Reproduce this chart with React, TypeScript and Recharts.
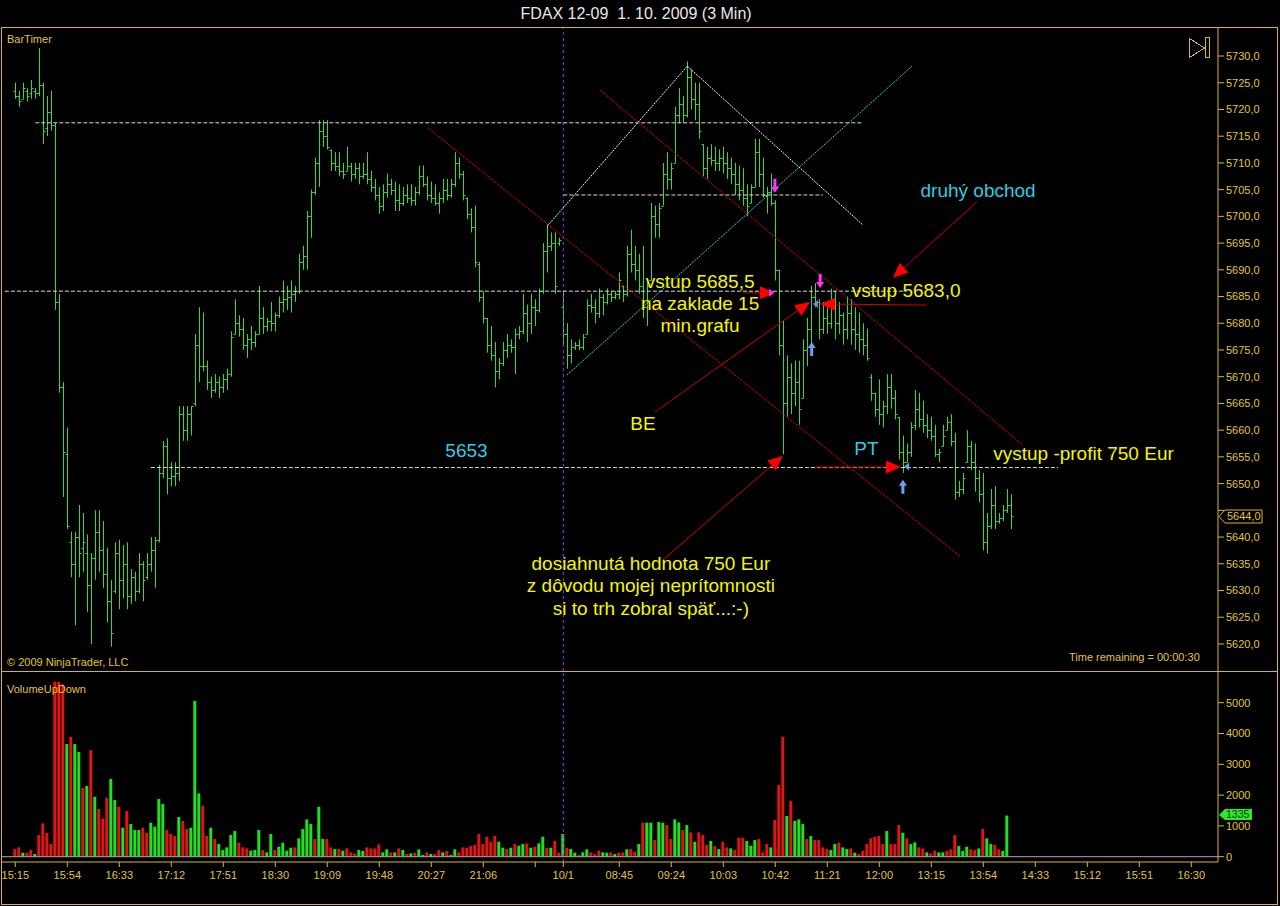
import React from 'react'
import { ComposedChart, Bar, Cell, XAxis, YAxis, ReferenceLine, ReferenceDot } from 'recharts'

// ---- price bars (3 min FDAX), one entry per bar index ----
const HIGH = [
  5725, 5723.5, 5725, 5724, 5725.5, 5724, 5731.5, 5725, 5722.5, 5723.5,
  5717.5, 5685.5, 5669, 5660.5, 5641, 5641, 5646, 5644.5, 5640.5, 5637,
  5645, 5645, 5643, 5638, 5632, 5639, 5639.5, 5638.5, 5639, 5634,
  5633.5, 5637, 5635.5, 5637, 5640, 5640, 5653.5, 5658, 5658.5, 5654,
  5654, 5664.5, 5664.5, 5664.5, 5664.5, 5678, 5683, 5682, 5673, 5670,
  5670.5, 5670, 5670.5, 5671.5, 5678.5, 5684.5, 5681.5, 5681, 5678, 5679.5,
  5678.5, 5687, 5683, 5681, 5684, 5682, 5685, 5688, 5687, 5688,
  5687, 5693, 5694.5, 5701, 5705, 5711, 5718, 5718, 5718, 5712.5,
  5712, 5712, 5710, 5713, 5710, 5710, 5710, 5710, 5712, 5708.5,
  5707, 5705.5, 5706, 5708, 5707, 5706.5, 5706, 5705.5, 5706, 5706,
  5705.5, 5709.5, 5709.5, 5707.5, 5706.5, 5706, 5704.5, 5707, 5707, 5707,
  5712, 5711, 5708.5, 5703.5, 5701.5, 5702, 5691.5, 5686, 5681, 5679.5,
  5676.5, 5673.5, 5676.5, 5678, 5677, 5679, 5679.5, 5685.5, 5683.5, 5685.5,
  5684.5, 5686.5, 5695, 5698.5, 5697, 5697, 5696, 5686, 5680, 5677,
  5676.5, 5677, 5678, 5684.5, 5685.5, 5684.5, 5686.5, 5685.5, 5686.5, 5686,
  5686, 5689.5, 5687, 5694.5, 5697.5, 5694.5, 5693, 5694.5, 5688, 5702.5,
  5702, 5702.5, 5710, 5712, 5710, 5720.5, 5724, 5722.5, 5729, 5727.5,
  5725, 5725, 5713.5, 5713, 5713.5, 5713, 5712.5, 5713, 5712, 5711,
  5710, 5709.5, 5709, 5706, 5706, 5714.5, 5714.5, 5711, 5705.5, 5708,
  5703, 5690, 5680.5, 5674, 5672.5, 5673, 5673, 5677, 5681, 5687,
  5687.5, 5684.5, 5684, 5683, 5686.5, 5686, 5684, 5682, 5685, 5684.5,
  5683, 5682, 5680, 5679, 5670.5, 5667, 5669.5, 5665.5, 5670.5, 5670.5,
  5667.5, 5662.5, 5659, 5657.5, 5661.5, 5667.5, 5667, 5665.5, 5663, 5662.5,
  5661, 5656.5, 5661, 5662.5, 5663, 5659.5, 5650.5, 5652, 5660, 5658,
  5657.5, 5652.5, 5652, 5644.5, 5649, 5649.5, 5644.5, 5646, 5649, 5648,
]
const LOW = [
  5722, 5720.5, 5722, 5721.5, 5722, 5722, 5722.5, 5713.5, 5715, 5716,
  5682.5, 5667, 5647.5, 5641.5, 5632.5, 5623.5, 5632.5, 5633.5, 5626, 5620,
  5632, 5633.5, 5630.5, 5624, 5619.5, 5629.5, 5626.5, 5628.5, 5626.5, 5627.5,
  5628, 5629.5, 5628, 5632, 5633.5, 5630.5, 5639, 5651, 5648, 5649.5,
  5649.5, 5650.5, 5658, 5658, 5659, 5664.5, 5669, 5671, 5667.5, 5666,
  5667, 5666, 5667, 5667.5, 5670, 5678, 5677.5, 5675, 5673.5, 5675,
  5675.5, 5678, 5678, 5678.5, 5678.5, 5678.5, 5681, 5682, 5682.5, 5682,
  5684, 5685.5, 5690, 5690, 5696, 5704, 5705.5, 5713, 5712.5, 5708.5,
  5708.5, 5707.5, 5707, 5708.5, 5706.5, 5707, 5706, 5707, 5706, 5704.5,
  5703, 5700.5, 5701, 5703.5, 5704, 5701, 5701, 5702, 5702.5, 5702,
  5702, 5704, 5705.5, 5703, 5702.5, 5702, 5700.5, 5702.5, 5703, 5703.5,
  5705.5, 5707, 5703, 5699.5, 5697, 5690.5, 5684, 5680, 5674.5, 5673,
  5668, 5669.5, 5672, 5673.5, 5674.5, 5670.5, 5677, 5678, 5676.5, 5678,
  5679.5, 5682, 5685.5, 5689.5, 5693.5, 5685.5, 5694.5, 5676, 5671.5, 5672.5,
  5675, 5675, 5675, 5678, 5682, 5680, 5681, 5681.5, 5683.5, 5684,
  5684.5, 5684.5, 5684, 5685, 5689.5, 5688, 5685.5, 5681, 5679.5, 5688,
  5696, 5696, 5702, 5705, 5705, 5710, 5717.5, 5717.5, 5718.5, 5720,
  5718, 5714.5, 5707.5, 5707, 5709.5, 5708.5, 5708.5, 5708, 5707, 5706,
  5704, 5703, 5702, 5700, 5702.5, 5705.5, 5705.5, 5703.5, 5700.5, 5702,
  5688, 5674, 5655.5, 5662.5, 5663, 5664.5, 5661, 5666, 5672, 5676,
  5683, 5677, 5678, 5678, 5679, 5677, 5678, 5676, 5677, 5676,
  5675, 5674.5, 5674, 5673, 5665.5, 5662.5, 5661, 5660.5, 5663, 5664,
  5662, 5654.5, 5652, 5654, 5655, 5660, 5660.5, 5659.5, 5658.5, 5658,
  5655, 5654, 5657, 5660, 5657, 5647, 5647.5, 5648, 5654, 5652.5,
  5648.5, 5646.5, 5637.5, 5637, 5641.5, 5641.5, 5642.5, 5643, 5644.5, 5641.5,
]
const OPEN = [
  5723.5, 5722.5, 5722, 5723.5, 5723, 5723.5, 5723, 5724.5, 5716.5, 5719.5,
  5717, 5684, 5668, 5655.5, 5639, 5635, 5640, 5638, 5637, 5631,
  5636, 5641, 5637.5, 5633, 5628, 5630, 5637, 5632, 5635, 5629,
  5632.5, 5630, 5635, 5632.5, 5635, 5637.5, 5639.5, 5652, 5657, 5651,
  5651.5, 5652, 5663, 5660, 5663, 5665, 5676, 5672, 5672, 5669,
  5667.5, 5669, 5668, 5669.5, 5670.5, 5678, 5680, 5679, 5676, 5677,
  5676.5, 5678, 5681, 5679.5, 5680.5, 5680, 5681.5, 5684, 5684.5, 5685,
  5685.5, 5686, 5691.5, 5692.5, 5700, 5704.5, 5710, 5716, 5715, 5712.5,
  5710, 5709.5, 5708.5, 5708.5, 5709.5, 5708, 5709, 5707.5, 5708, 5707,
  5705.5, 5704, 5702, 5704.5, 5706, 5705, 5703, 5702.5, 5704, 5703.5,
  5703, 5704.5, 5707.5, 5706, 5704, 5703.5, 5702.5, 5703.5, 5705, 5704,
  5706, 5710, 5708, 5703.5, 5700.5, 5698, 5691, 5685, 5681, 5676,
  5674, 5671, 5672.5, 5675, 5676, 5675.5, 5678, 5678.5, 5682, 5680,
  5683, 5682.5, 5686, 5693.5, 5694.5, 5695, 5695, 5683, 5678, 5674,
  5675.5, 5676, 5675.5, 5678, 5683.5, 5683, 5682, 5685, 5684, 5685.5,
  5685, 5685.5, 5687, 5685.5, 5693, 5691, 5690, 5687, 5683, 5688,
  5700, 5698.5, 5702, 5708, 5707, 5710, 5719, 5721, 5719, 5726,
  5722, 5721, 5713.5, 5709, 5711, 5710.5, 5710, 5711, 5710, 5709,
  5708, 5706, 5705, 5703.5, 5702.5, 5705.5, 5712, 5708, 5704, 5704.5,
  5702.5, 5690, 5676, 5665, 5670, 5667, 5669, 5666, 5675, 5679,
  5685, 5684, 5679, 5681, 5680, 5684, 5680, 5681.5, 5679, 5682,
  5679, 5678, 5677, 5676, 5670, 5667, 5664, 5663, 5664.5, 5668,
  5666, 5662.5, 5656, 5654, 5656, 5661, 5664, 5662, 5661, 5660,
  5659, 5655.5, 5657, 5660, 5661.5, 5658, 5648.5, 5649, 5654, 5657,
  5654, 5651, 5648, 5639, 5642, 5646, 5643, 5643.5, 5645, 5646,
]
const CLOSE = [
  5722.5, 5721.5, 5724, 5722.5, 5724, 5723, 5724.5, 5716, 5719.5, 5717,
  5684, 5668, 5656, 5642, 5635, 5640, 5637, 5639, 5631, 5636,
  5641, 5637.5, 5633, 5628, 5622, 5637, 5632, 5635, 5629, 5632.5,
  5630, 5635, 5632, 5635, 5637.5, 5639.5, 5652, 5657, 5651, 5651.5,
  5652, 5663, 5660, 5663, 5664.5, 5676, 5672, 5672, 5669, 5667.5,
  5669, 5668, 5669.5, 5670.5, 5677.5, 5680, 5679, 5676, 5677, 5676.5,
  5678, 5681, 5679.5, 5680.5, 5680, 5681.5, 5684, 5684.5, 5685, 5685.5,
  5686, 5691.5, 5692.5, 5700, 5704.5, 5710, 5716, 5715, 5713, 5710,
  5709.5, 5708.5, 5708, 5709.5, 5708, 5709, 5707.5, 5708, 5707, 5705.5,
  5704, 5702, 5704.5, 5706, 5705, 5703, 5702.5, 5704, 5703.5, 5703,
  5704.5, 5707.5, 5706, 5704, 5703.5, 5702.5, 5703.5, 5705, 5704, 5706,
  5710, 5708, 5704, 5700.5, 5698, 5691.5, 5685, 5681, 5676, 5674,
  5671, 5672.5, 5675, 5676, 5675.5, 5678, 5678.5, 5682, 5680, 5683,
  5682.5, 5686, 5693.5, 5694.5, 5695, 5687, 5695.5, 5678, 5674, 5675.5,
  5676, 5675.5, 5677.5, 5683.5, 5683, 5682, 5685, 5684, 5685.5, 5685,
  5685.5, 5688, 5685.5, 5693, 5691, 5690, 5687, 5683, 5687, 5700,
  5698.5, 5701.5, 5708, 5707, 5709, 5719, 5721, 5719, 5726, 5722,
  5721, 5716, 5709, 5711, 5710.5, 5710, 5711, 5710, 5709, 5708,
  5706, 5705, 5703.5, 5702, 5705.5, 5712, 5708, 5704, 5704.5, 5702.5,
  5690, 5676, 5665, 5670, 5667, 5669, 5664, 5675, 5679, 5685,
  5684, 5679, 5681, 5680, 5684, 5680, 5681.5, 5679, 5682, 5679,
  5678, 5677, 5676, 5673.5, 5667, 5664, 5663, 5664.5, 5668, 5666,
  5663, 5656, 5654, 5656, 5660.5, 5664, 5662, 5661, 5660, 5659,
  5655.5, 5656, 5659, 5661.5, 5658, 5648.5, 5649, 5651, 5657, 5654,
  5651, 5648, 5639, 5642, 5646, 5643, 5643.5, 5645, 5646, 5644,
]

// ---- VolumeUpDown ----
const VOLUME = [
  249, 303, 130, 130, 216, 87, 703, 1082, 779, 411,
  5680, 5680, 5600, 3657, 3895, 3657, 3397, 2229, 2294, 3462,
  1948, 1547, 1244, 1915, 2521, 1839, 1623, 941, 1482, 1060,
  866, 866, 941, 779, 1104, 974, 1872, 1710, 866, 736,
  671, 1288, 1158, 898, 941, 5053, 2056, 1655, 671, 941,
  573, 411, 216, 303, 703, 833, 454, 303, 270, 195,
  216, 866, 216, 141, 736, 216, 325, 454, 195, 292,
  303, 595, 898, 1212, 1060, 573, 1623, 573, 573, 303,
  249, 249, 195, 270, 141, 108, 216, 184, 303, 270,
  270, 400, 141, 238, 141, 141, 270, 216, 87, 108,
  130, 238, 54, 141, 87, 87, 216, 141, 184, 54,
  238, 141, 303, 292, 346, 379, 736, 411, 649, 487,
  671, 487, 292, 249, 292, 411, 357, 411, 433, 292,
  325, 433, 649, 292, 292, 519, 130, 736, 292, 249,
  130, 54, 141, 238, 141, 87, 195, 141, 130, 141,
  87, 130, 141, 238, 249, 162, 411, 1104, 1104, 1104,
  541, 1125, 1104, 1028, 573, 1212, 1114, 866, 1028, 790,
  487, 790, 703, 379, 509, 346, 249, 487, 303, 270,
  216, 617, 617, 509, 357, 541, 573, 141, 411, 303,
  1190, 2326, 3895, 1320, 1818, 1158, 1212, 1060, 573, 671,
  541, 541, 303, 249, 216, 411, 454, 303, 249, 270,
  130, 87, 184, 411, 595, 649, 671, 411, 833, 411,
  411, 1028, 779, 595, 411, 465, 303, 270, 141, 108,
  195, 141, 141, 184, 238, 703, 346, 184, 325, 238,
  216, 270, 898, 595, 411, 379, 238, 184, 1335,
]
// g = up volume (green), r = down volume (red)
const VOL_DIR = (
  'rrgrrgrrrr' + 'rrrgrggrgr' + 'grrrggrgrg' + 'ggrrggggrr' + 'rgrrgggrrg' +
  'rgggggrrrg' + 'ggrggrgggg' + 'rggggrggrr' + 'grgrrrggrr' + 'rrggrgrgrg' +
  'rggrgrrgrg' + 'grrrrrrrrr' + 'rggrgrggrg' + 'rggrgrrgrg' + 'grggrrrggr' +
  'grrgrrgrgg' + 'rggrrggrgr' + 'grrrgrgrrg' + 'rrrgggrrrg' + 'rrrgrgggrg' +
  'rrrrggrggr' + 'grrrrrrrgr' + 'rrgrggrrgr' + 'rggrrrgggr' + 'rgrggrrgg'
).split('')

const LAST_PRICE = 5644
const LAST_VOLUME = 1335

// ---- axes ----
const TIME_TICKS = [0, 13, 26, 39, 52, 65, 78, 91, 104, 117, 130, 137, 151, 164, 177, 190, 203, 216, 229, 242, 255, 268, 281, 294]
const TIME_LABELS = ['15:15', '15:54', '16:33', '17:12', '17:51', '18:30', '19:09', '19:48', '20:27', '21:06', '', '10/1', '08:45', '09:24', '10:03', '10:42', '11:21', '12:00', '13:15', '13:54', '14:33', '15:12', '15:51', '16:30']
const PRICE_TICKS = [5620, 5625, 5630, 5635, 5640, 5645, 5650, 5655, 5660, 5665, 5670, 5675, 5680, 5685, 5690, 5695, 5700, 5705, 5710, 5715, 5720, 5725, 5730]
const VOL_TICKS = [0, 1000, 2000, 3000, 4000, 5000]
const SESSION_BAR = 137

// ---- drawing objects (bar index, price) ----
const LEVELS = [
  { from: 5, to: 211.7, price: 5717.5 },
  { from: 137, to: 201.9, price: 5704 },
  { from: -2.6, to: 222.9, price: 5686 },
  { from: 33.9, to: 260.7, price: 5653 },
]
const TREND_LINES = [
  { a: [103.25, 5716.5], b: [236.2, 5636.4], kind: 'red' },
  { a: [146.2, 5723.6], b: [251.9, 5657.2], kind: 'red' },
  { a: [133.0, 5698.2], b: [168.0, 5728.1], kind: 'white' },
  { a: [168.0, 5728.1], b: [211.9, 5698.4], kind: 'white' },
  { a: [137.9, 5670.3], b: [224.2, 5728.1], kind: 'cyan' },
]
const ARROWS = [
  { a: [240.4, 5702.7], b: [219.4, 5688.5] },
  { a: [182.4, 5685.7], b: [189.9, 5685.7] },
  { a: [159.9, 5663.4], b: [198.7, 5684.0] },
  { a: [227.9, 5683.4], b: [201.2, 5683.6] },
  { a: [161.9, 5635.7], b: [191.9, 5655.2] },
  { a: [199.9, 5653.1], b: [221.4, 5653.1] },
]
const MARKERS = [
  { x: 189.9, y: 5704.4, dir: 'down', color: '#ff33ff' },
  { x: 201.2, y: 5686.6, dir: 'down', color: '#ff33ff' },
  { x: 199.1, y: 5676.5, dir: 'up', color: '#6f9ff0' },
  { x: 221.9, y: 5650.7, dir: 'up', color: '#6f9ff0' },
  { x: 222.2, y: 5653.2, dir: 'left', color: '#6f9ff0' },
  { x: 199.4, y: 5683.6, dir: 'left', color: '#8a78ff' },
  { x: 189.7, y: 5685.7, dir: 'right', color: '#ff33ff' },
]
const NOTES = [
  { x: 240.7, y: 5704.9, lines: ['druhý obchod'], color: 'cyan', anchor: 'middle', lh: 0 },
  { x: 171.2, y: 5687.8, lines: ['vstup 5685,5', 'na zaklade 15', 'min.grafu'], color: 'yellow', anchor: 'middle', lh: 21.7 },
  { x: 209.1, y: 5686.2, lines: ['vstup 5683,0'], color: 'yellow', anchor: 'start', lh: 0 },
  { x: 156.9, y: 5661.3, lines: ['BE'], color: 'yellow', anchor: 'middle', lh: 0 },
  { x: 112.8, y: 5656.2, lines: ['5653'], color: 'cyan', anchor: 'middle', lh: 0 },
  { x: 212.8, y: 5656.6, lines: ['PT'], color: 'cyan', anchor: 'middle', lh: 0 },
  { x: 267.05, y: 5655.7, lines: ['vystup -profit 750 Eur'], color: 'yellow', anchor: 'middle', lh: 0 },
  { x: 158.9, y: 5635.2, lines: ['dosiahnutá hodnota 750 Eur', 'z dôvodu mojej neprítomnosti', 'si to trh zobral späť...:-)'], color: 'yellow', anchor: 'middle', lh: 22.5 },
]

const X_MIN = -3.575
const X_MAX = 300.675
const P_MIN = 5614.94
const P_MAX = 5735.24
const V_MIN = -172
const V_MAX = 6029

const FONT = 'Arial, "Liberation Sans", sans-serif'
const GOLD = '#d6b72c'
const GOLD_TEXT = '#e2c43a'
const BAR_GREEN = '#3ed63e'
const NOTE_COLORS: Record<string, string> = { yellow: '#f5f500', cyan: '#2fcde0' }
const LINE_STYLES: Record<string, { stroke: string; dash: string }> = {
  red: { stroke: '#d00000', dash: '3 1' },
  white: { stroke: '#f0f0f0', dash: '2 1' },
  cyan: { stroke: '#2ed0d0', dash: '2 1' },
}

const priceRows = HIGH.map((h, i) => ({ i, range: [LOW[i], h], high: h, low: LOW[i], open: OPEN[i], close: CLOSE[i] }))
const volRows = VOLUME.map((v, i) => ({ i, vol: v, up: VOL_DIR[i] === 'g' }))

const axisTick = { fill: GOLD_TEXT, fontSize: 11, fontFamily: FONT }

function OhlcBar(p: any) {
  const { x, y, width, height, payload } = p
  if (!payload || height == null) return null
  const cx = Math.round(x + width / 2) + 0.5
  const span = payload.high - payload.low || 1
  const yo = Math.round(y + ((payload.high - payload.open) / span) * height) + 0.5
  const yc = Math.round(y + ((payload.high - payload.close) / span) * height) + 0.5
  return (
    <g stroke={BAR_GREEN} strokeWidth={1}>
      <line x1={cx} x2={cx} y1={y} y2={y + height} />
      <line x1={cx - 2} x2={cx} y1={yo} y2={yo} />
      <line x1={cx} x2={cx + 2} y1={yc} y2={yc} />
    </g>
  )
}

function ArrowLine(p: any) {
  const { x1, y1, x2, y2 } = p
  const ang = Math.atan2(y2 - y1, x2 - x1)
  const len = 15
  const half = 6.5
  const bx = x2 - len * Math.cos(ang)
  const by = y2 - len * Math.sin(ang)
  const px = -Math.sin(ang) * half
  const py = Math.cos(ang) * half
  return (
    <g>
      <line x1={x1} y1={y1} x2={bx} y2={by} stroke="#d00000" strokeWidth={1} />
      <polygon points={`${x2},${y2} ${bx + px},${by + py} ${bx - px},${by - py}`} fill="#ff0000" />
    </g>
  )
}

function markerShape(dir: string, color: string) {
  return (p: any) => {
    const { cx, cy } = p
    let pts = ''
    if (dir === 'up') pts = `${cx},${cy} ${cx + 4},${cy + 6} ${cx + 1.5},${cy + 6} ${cx + 1.5},${cy + 14} ${cx - 1.5},${cy + 14} ${cx - 1.5},${cy + 6} ${cx - 4},${cy + 6}`
    else if (dir === 'down') pts = `${cx},${cy} ${cx + 4},${cy - 6} ${cx + 1.5},${cy - 6} ${cx + 1.5},${cy - 14} ${cx - 1.5},${cy - 14} ${cx - 1.5},${cy - 6} ${cx - 4},${cy - 6}`
    else if (dir === 'left') pts = `${cx},${cy} ${cx + 5},${cy - 4} ${cx + 5},${cy + 4}`
    else pts = `${cx},${cy} ${cx - 5},${cy - 4} ${cx - 5},${cy + 4}`
    return <polygon points={pts} fill={color} />
  }
}

function noteShape(lines: string[], color: string, anchor: string, lh: number) {
  return (p: any) => {
    const { cx, cy } = p
    return (
      <text textAnchor={anchor} fill={color} fontSize={19} fontFamily={FONT}>
        {lines.map((t, k) => (
          <tspan key={k} x={cx} y={cy + k * lh} dy="0.36em">
            {t}
          </tspan>
        ))}
      </text>
    )
  }
}

function priceMarker(p: any) {
  const { cx, cy } = p
  const x0 = Math.round(cx) + 1
  const y0 = Math.round(cy) + 0.5
  return (
    <g>
      <path
        d={`M${x0},${y0} L${x0 + 6},${y0 - 6.5} L${x0 + 43},${y0 - 6.5} L${x0 + 43},${y0 + 6.5} L${x0 + 6},${y0 + 6.5} Z`}
        fill="#000"
        stroke={GOLD}
      />
      <text x={x0 + 8} y={y0} dy="0.36em" fill={GOLD_TEXT} fontSize={11} fontFamily={FONT}>
        {LAST_PRICE.toFixed(1).replace('.', ',')}
      </text>
    </g>
  )
}

function volumeMarker(p: any) {
  const { cx, cy } = p
  const x0 = Math.round(cx) + 1
  const y0 = Math.round(cy) - 1
  return (
    <g>
      <path
        d={`M${x0},${y0} L${x0 + 6},${y0 - 6} L${x0 + 33},${y0 - 6} L${x0 + 33},${y0 + 5} L${x0 + 6},${y0 + 5} Z`}
        fill="#2ee82e"
      />
      <text x={x0 + 7} y={y0} dy="0.33em" fill="#0b3a0b" fontSize={10.5} fontFamily={FONT}>
        {LAST_VOLUME}
      </text>
    </g>
  )
}

// the last-price box covers the 5645 label, as in the platform
const priceLabel = (v: number) => (v === 5645 ? '' : v.toFixed(1).replace('.', ','))

function PricePanel() {
  return (
    <ComposedChart width={1280} height={671} data={priceRows} margin={{ top: 28, right: 0, bottom: 0, left: 1 }}>
      <XAxis dataKey="i" type="number" domain={[X_MIN, X_MAX]} hide />
      <YAxis
        orientation="right"
        width={62}
        type="number"
        domain={[P_MIN, P_MAX]}
        ticks={PRICE_TICKS}
        interval={0}
        tickFormatter={priceLabel}
        tick={axisTick}
        tickSize={6}
        tickMargin={2}
        axisLine={{ stroke: GOLD }}
        tickLine={{ stroke: GOLD }}
      />
      <ReferenceLine x={SESSION_BAR} stroke="#8a3be0" strokeDasharray="3 3" ifOverflow="visible" />
      {LEVELS.map((l, k) => (
        <ReferenceLine
          key={'lv' + k}
          segment={[{ x: l.from, y: l.price }, { x: l.to, y: l.price }]}
          stroke="#dcdcdc"
          strokeDasharray="4 2"
          ifOverflow="visible"
        />
      ))}
      <Bar dataKey="range" barSize={3} shape={OhlcBar} isAnimationActive={false} />
      {TREND_LINES.map((t, k) => (
        <ReferenceLine
          key={'tl' + k}
          segment={[{ x: t.a[0], y: t.a[1] }, { x: t.b[0], y: t.b[1] }]}
          stroke={LINE_STYLES[t.kind].stroke}
          strokeDasharray={LINE_STYLES[t.kind].dash}
          ifOverflow="visible"
        />
      ))}
      {ARROWS.map((a, k) => (
        <ReferenceLine
          key={'ar' + k}
          segment={[{ x: a.a[0], y: a.a[1] }, { x: a.b[0], y: a.b[1] }]}
          shape={ArrowLine}
          ifOverflow="visible"
        />
      ))}
      {MARKERS.map((m, k) => (
        <ReferenceDot key={'mk' + k} x={m.x} y={m.y} r={1} shape={markerShape(m.dir, m.color)} ifOverflow="visible" />
      ))}
      {NOTES.map((n, k) => (
        <ReferenceDot
          key={'nt' + k}
          x={n.x}
          y={n.y}
          r={1}
          shape={noteShape(n.lines, NOTE_COLORS[n.color], n.anchor, n.lh)}
          ifOverflow="visible"
        />
      ))}
      <ReferenceDot x={X_MAX} y={LAST_PRICE} r={1} shape={priceMarker} ifOverflow="visible" />
    </ComposedChart>
  )
}

function VolumePanel() {
  return (
    <ComposedChart width={1280} height={235} data={volRows} margin={{ top: 0, right: 0, bottom: 0, left: 1 }}>
      <XAxis
        dataKey="i"
        type="number"
        domain={[X_MIN, X_MAX]}
        ticks={TIME_TICKS}
        interval={0}
        tickFormatter={(v: number) => TIME_LABELS[TIME_TICKS.indexOf(v)] ?? ''}
        height={44}
        tick={axisTick}
        tickSize={5}
        tickMargin={4}
        axisLine={{ stroke: GOLD }}
        tickLine={{ stroke: GOLD }}
      />
      <YAxis
        orientation="right"
        width={62}
        type="number"
        domain={[V_MIN, V_MAX]}
        ticks={VOL_TICKS}
        interval={0}
        tick={axisTick}
        tickSize={6}
        tickMargin={2}
        axisLine={{ stroke: GOLD }}
        tickLine={{ stroke: GOLD }}
      />
      <ReferenceLine x={SESSION_BAR} stroke="#8a3be0" strokeDasharray="3 3" ifOverflow="visible" />
      <ReferenceLine y={0} stroke="#a8a8b8" ifOverflow="visible" />
      <Bar dataKey="vol" barSize={3} isAnimationActive={false}>
        {volRows.map((r) => (
          <Cell key={r.i} fill={r.up ? '#1fe01f' : '#e01414'} />
        ))}
      </Bar>
      <ReferenceDot x={X_MAX} y={LAST_VOLUME} r={1} shape={volumeMarker} ifOverflow="visible" />
    </ComposedChart>
  )
}

function Frame() {
  return (
    <svg width={1280} height={906} style={{ position: 'absolute', left: 0, top: 0, pointerEvents: 'none' }}>
      <g stroke={GOLD} strokeWidth={1} fill="none" shapeRendering="crispEdges">
        <line x1={1} x2={1278} y1={27.5} y2={27.5} />
        <line x1={1.5} x2={1.5} y1={27} y2={905} />
        <line x1={1277.5} x2={1277.5} y1={27} y2={905} />
        <line x1={1} x2={1278} y1={904.5} y2={904.5} />
        <line x1={1} x2={1278} y1={671.5} y2={671.5} />
        <polygon points="1189.5,38.5 1189.5,57.5 1204.5,48" />
        <rect x={1205.5} y={37.5} width={4} height={20} />
      </g>
      <text x={636} y={13} dy="0.36em" textAnchor="middle" fill="#e8e8e8" fontSize={16} fontFamily={FONT} style={{ whiteSpace: 'pre' }}>
        FDAX 12-09  1. 10. 2009 (3 Min)
      </text>
      <text x={7} y={39} dy="0.36em" fill={GOLD_TEXT} fontSize={11} fontFamily={FONT}>BarTimer</text>
      <text x={7} y={662} dy="0.36em" fill={GOLD_TEXT} fontSize={11} fontFamily={FONT}>© 2009 NinjaTrader, LLC</text>
      <text x={1069} y={657} dy="0.36em" fill={GOLD_TEXT} fontSize={11} fontFamily={FONT}>Time remaining = 00:00:30</text>
      <text x={7} y={689} dy="0.36em" fill={GOLD_TEXT} fontSize={11} fontFamily={FONT}>VolumeUpDown</text>
    </svg>
  )
}

export default function App() {
  return (
    <div style={{ position: 'relative', width: 1280, height: 906, background: '#000', overflow: 'hidden' }}>
      <style>{'body{margin:0;background:#000}'}</style>
      <div style={{ position: 'absolute', left: 0, top: 0 }}>
        <PricePanel />
      </div>
      <div style={{ position: 'absolute', left: 0, top: 671 }}>
        <VolumePanel />
      </div>
      <Frame />
    </div>
  )
}
